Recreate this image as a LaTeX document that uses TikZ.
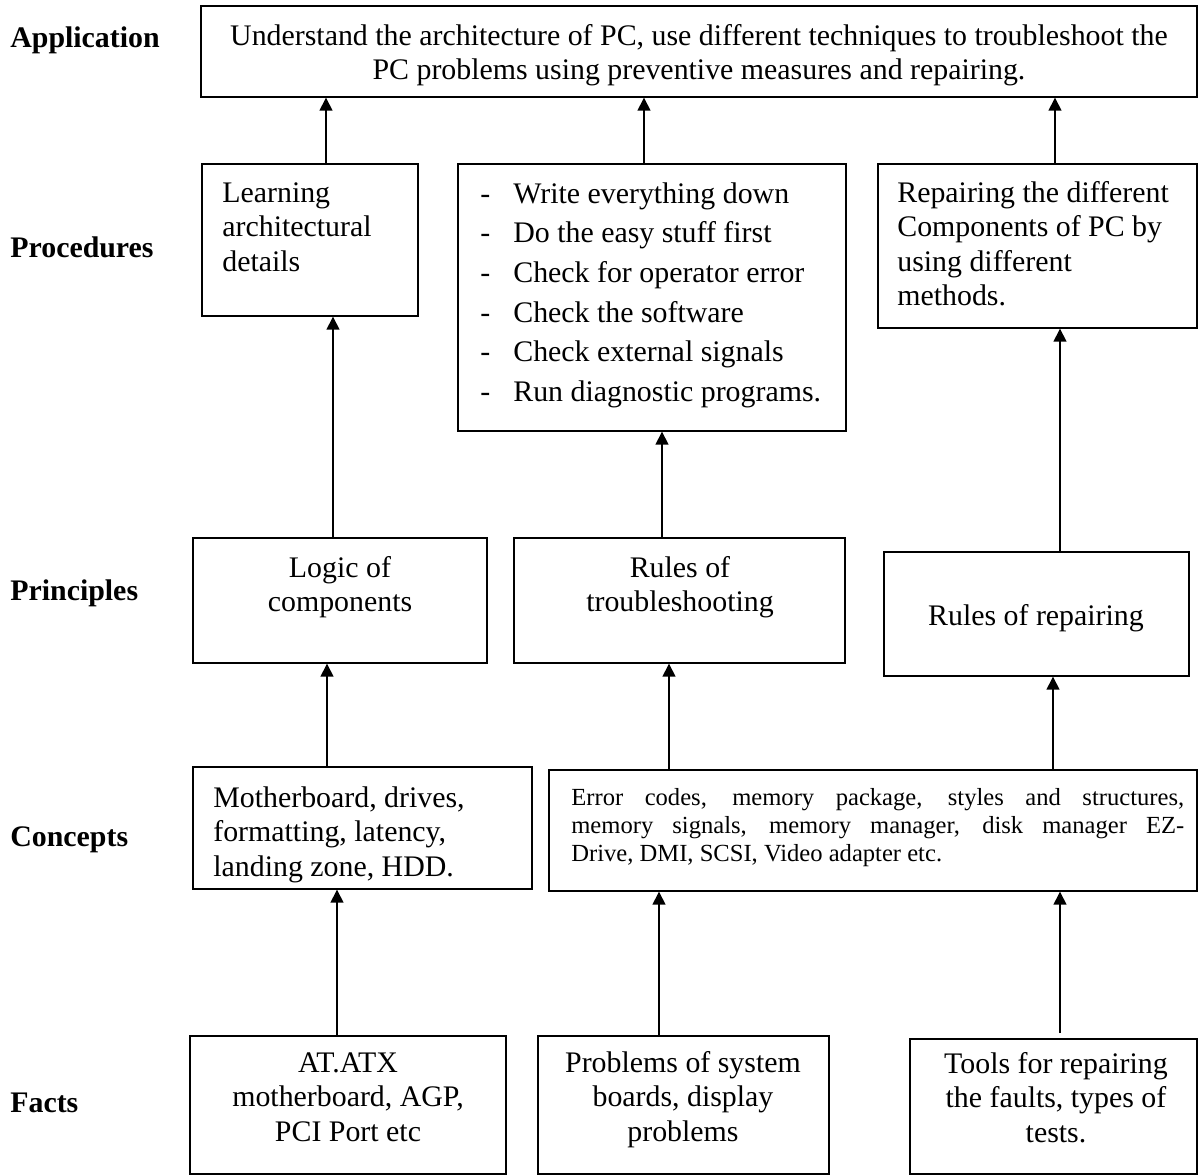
\documentclass[tikz,border=0pt]{standalone}
\usepackage{fontspec}
\setmainfont{Liberation Serif}
\usetikzlibrary{arrows.meta}

\newcommand{\listdash}{\makebox[0.66cm][l]{-}}

\tikzset{
  box/.style={draw=black, line width=0.8pt, rectangle, inner sep=0pt},
  txt/.style={inner sep=0pt, font=\fontsize{17}{19.6}\selectfont},
  lvl/.style={anchor=base west, inner sep=0pt, font=\fontsize{17}{19.6}\selectfont\bfseries},
  up/.style={line width=0.8pt, -{Triangle[width=7.4pt,length=7.4pt]}}
}

\begin{document}
\begin{tikzpicture}[x=0.02cm, y=-0.02cm]
        \useasboundingbox (0,0) rectangle (1198,1176);

        % level names
        \node[lvl] (lapp) at (10,48) {Application};
        \node[lvl] (lproc) at (10,257) {Procedures};
        \node[lvl] (lprin) at (10,600) {Principles};
        \node[lvl] (lconc) at (10,846) {Concepts};
        \node[lvl] (lfact) at (10,1112) {Facts};

        % boxes
        \node[box, minimum width=19.92cm, minimum height=1.82cm] (app) at (699,51.5) {};

        \node[box, minimum width=4.32cm, minimum height=3.04cm] (p1) at (310,240) {};
        \node[box, minimum width=7.76cm, minimum height=5.34cm] (p2) at (652,297.5) {};
        \node[box, minimum width=6.38cm, minimum height=3.28cm] (p3) at (1037.5,246) {};

        \node[box, minimum width=5.88cm, minimum height=2.50cm] (r1) at (340,600.5) {};
        \node[box, minimum width=6.62cm, minimum height=2.50cm] (r2) at (679.5,600.5) {};
        \node[box, minimum width=6.10cm, minimum height=2.48cm] (r3) at (1036.5,614) {};

        \node[box, minimum width=6.78cm, minimum height=2.44cm] (c1) at (362.5,828) {};
        \node[box, minimum width=12.96cm, minimum height=2.42cm] (c2) at (873,830.5) {};

        \node[box, minimum width=6.32cm, minimum height=2.76cm] (f1) at (348,1105) {};
        \node[box, minimum width=5.82cm, minimum height=2.76cm] (f2) at (683.5,1105) {};
        \node[box, minimum width=5.74cm, minimum height=2.70cm] (f3) at (1053.5,1106.5) {};

        % texts
        \node[txt, anchor=north, align=center] (appt) at (699,20.8)
            {\strut Understand the architecture of PC, use different techniques to troubleshoot the\\PC problems using preventive measures and repairing.};

        \node[txt, anchor=north west, align=left] (p1t) at (222,177.8) {\strut Learning\\architectural\\details};
        \node[txt, anchor=north west, align=left, font=\fontsize{17}{22.6}\selectfont] (p2t) at (480,175)
            {\strut\listdash Write everything down\\\listdash Do the easy stuff first\\\listdash Check for operator error\\\listdash Check the software\\\listdash Check external signals\\\listdash Run diagnostic programs.};
        \node[txt, anchor=north west, align=left] (p3t) at (897,177.8) {\strut Repairing the different\\Components of PC by\\using different\\methods.};

        \node[txt, anchor=north, align=center] (r1t) at (340,552.8) {\strut Logic of\\components};
        \node[txt, anchor=north, align=center] (r2t) at (680,552.8) {\strut Rules of\\troubleshooting};
        \node[txt, anchor=base] (r3t) at (1036,625) {Rules of repairing};

        \node[txt, anchor=north west, align=left] (c1t) at (213,782.8) {\strut Motherboard, drives,\\formatting, latency,\\landing zone, HDD.};
        \node[txt, anchor=north west, text width=12.26cm, align=justify, font=\fontsize{14}{15.9}\selectfont] (c2t) at (571,785.4)
            {\tolerance=10000\hbadness=10000\strut Error codes, memory package, styles and structures,\linebreak memory signals, memory manager, disk manager EZ-\linebreak Drive, DMI, SCSI, Video adapter etc.};

        \node[txt, anchor=north, align=center] (f1t) at (348,1047.8) {\strut AT.ATX\\motherboard, AGP,\\PCI Port etc};
        \node[txt, anchor=north, align=center] (f2t) at (683,1047.8) {\strut Problems of system\\boards, display\\problems};
        \node[txt, anchor=north, align=center] (f3t) at (1056,1048.8) {\strut Tools for repairing\\the faults, types of\\tests.};

        % arrows
        \draw[up] (326,0 |- p1.north) -- (326,0 |- app.south);
        \draw[up] (644,0 |- p2.north) -- (644,0 |- app.south);
        \draw[up] (1055,0 |- p3.north) -- (1055,0 |- app.south);

        \draw[up] (333,0 |- r1.north) -- (333,0 |- p1.south);
        \draw[up] (662,0 |- r2.north) -- (662,0 |- p2.south);
        \draw[up] (1060,0 |- r3.north) -- (1060,0 |- p3.south);

        \draw[up] (327,0 |- c1.north) -- (327,0 |- r1.south);
        \draw[up] (669,0 |- c2.north) -- (669,0 |- r2.south);
        \draw[up] (1053,0 |- c2.north) -- (1053,0 |- r3.south);

        \draw[up] (337,0 |- f1.north) -- (337,0 |- c1.south);
        \draw[up] (659,0 |- f2.north) -- (659,0 |- c2.south);
        \draw[up] ([yshift=3pt]1060,0 |- f3.north) -- (1060,0 |- c2.south);
\end{tikzpicture}
\end{document}
